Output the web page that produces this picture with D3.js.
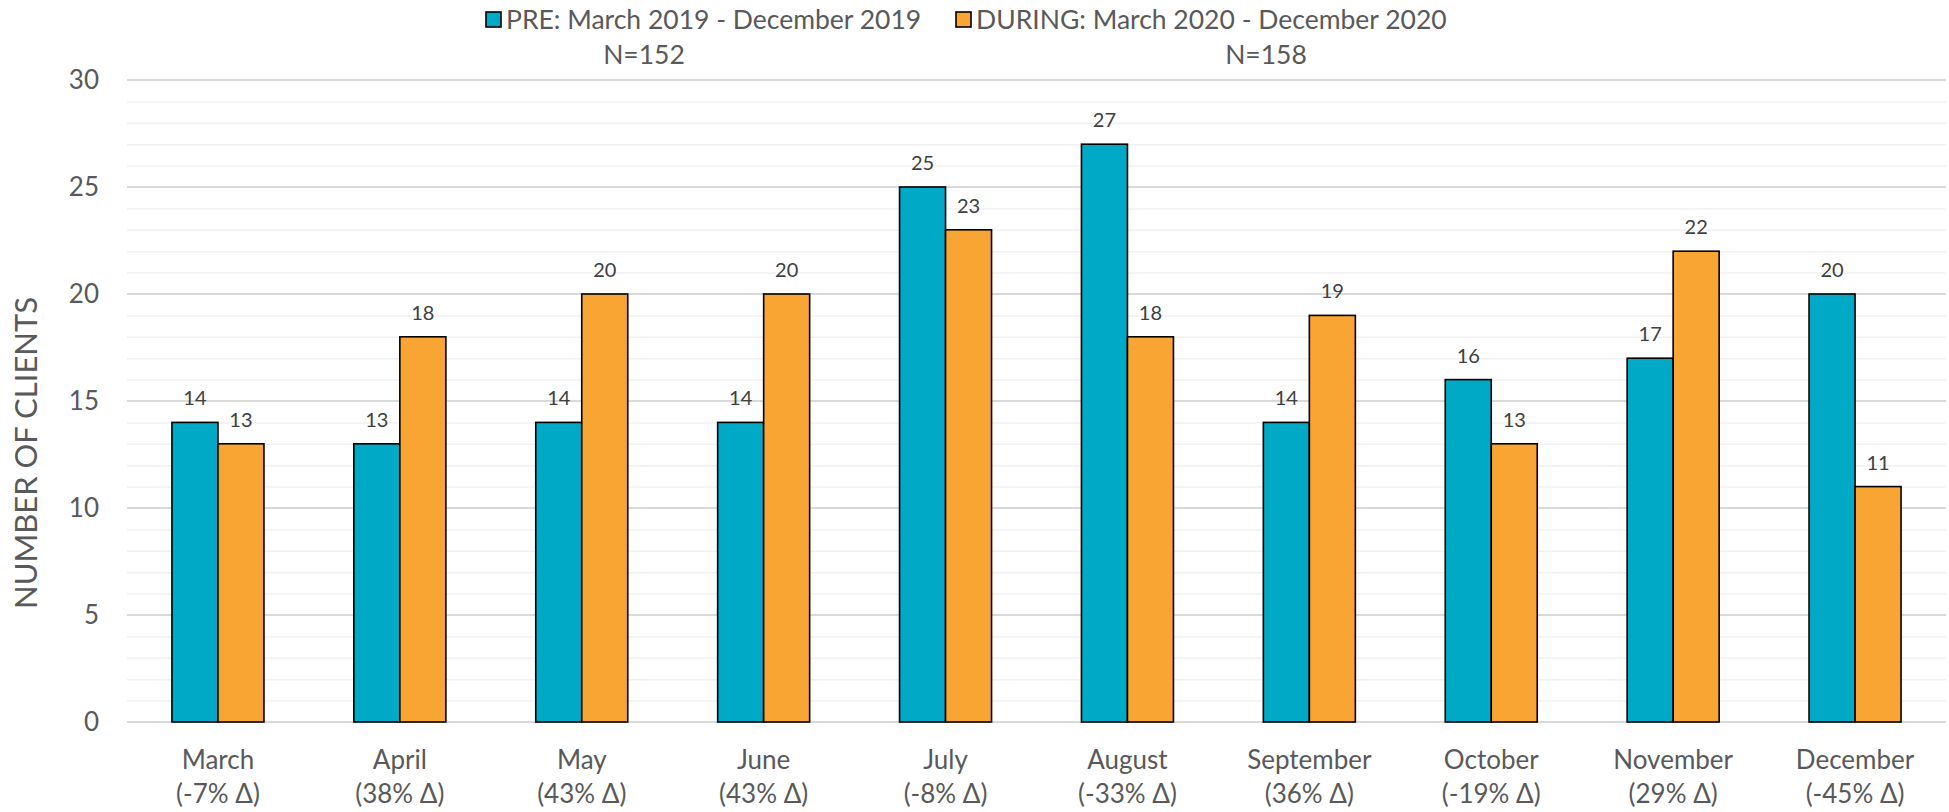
<!DOCTYPE html>
<html>
<head>
<meta charset="utf-8">
<script src="https://cdn.jsdelivr.net/npm/d3@7"></script>
<style>
  body { margin: 0; background: #fff; }
  text { font-family: Lato, "Open Sans", sans-serif; fill: #595959; }
</style>
</head>
<body>
<div id="chart"></div>
<script>
// Data
var months  = ["March", "April", "May", "June", "July", "August",
               "September", "October", "November", "December"];
var deltas  = ["-7%", "38%", "43%", "43%", "-8%", "-33%", "36%", "-19%", "29%", "-45%"];
var preVals    = [14, 13, 14, 14, 25, 27, 14, 16, 17, 20];
var duringVals = [13, 18, 20, 20, 23, 18, 19, 13, 22, 11];
var seriesNames = ["PRE: March 2019 - December 2019", "DURING: March 2020 - December 2020"];
var seriesN     = ["N=152", "N=158"];
var yTicks = [0, 5, 10, 15, 20, 25, 30];

var colors = ["#00A9C6", "#F9A533"];

// Step 1: chart size
var svgWidth  = 1949;
var svgHeight = 812;
var margin = { top: 80, right: 3, bottom: 90, left: 127 };
var width  = svgWidth  - margin.left - margin.right;
var height = svgHeight - margin.top  - margin.bottom;

var svg = d3.select("#chart").append("svg")
  .attr("width", svgWidth)
  .attr("height", svgHeight);

var g = svg.append("g")
  .attr("transform", `translate(${margin.left}, ${margin.top})`);

// Step 2: scales
var x0 = d3.scaleBand().domain(months).range([0, width]).padding(0);
var x1 = d3.scaleBand().domain([0, 1])
  .range([x0.bandwidth() / 2 - 46, x0.bandwidth() / 2 + 46]);
var y = d3.scaleLinear().domain([0, 30]).range([height, 0]);

// Step 3: gridlines (minor every 1, major every 5)
g.append("g").selectAll("line")
  .data(d3.range(1, 30).filter(v => v % 5 !== 0))
  .enter().append("line")
    .attr("x1", 0).attr("x2", width)
    .attr("y1", d => y(d) + 0.5).attr("y2", d => y(d) + 0.5)
    .attr("stroke", "#f0f0f0").attr("stroke-width", 1.5);

g.append("g").selectAll("line")
  .data(yTicks)
  .enter().append("line")
    .attr("x1", 0).attr("x2", width)
    .attr("y1", d => y(d)).attr("y2", d => y(d))
    .attr("stroke", "#d9d9d9").attr("stroke-width", 2);

// Step 4: y axis labels
var yAxis = g.append("g")
  .call(d3.axisLeft(y).tickValues(yTicks).tickSize(0).tickPadding(28));
yAxis.select(".domain").remove();
yAxis.selectAll("text")
  .style("font-size", "26px")
  .attr("fill", "#595959");

// Step 5: x axis labels (two lines)
var xAxis = g.append("g")
  .attr("transform", `translate(0, ${height})`)
  .call(d3.axisBottom(x0).tickSize(0).tickFormat(""));
xAxis.select(".domain").remove();
xAxis.selectAll(".tick").each(function(d, i) {
  var t = d3.select(this).append("text")
    .attr("text-anchor", "middle")
    .style("font-size", "26px");
  t.append("tspan").attr("x", 0).attr("y", 47).text(d);
  t.append("tspan").attr("x", 0).attr("y", 81).text(`(${deltas[i]} \u0394)`);
});

// Step 6: bars
var rows = months.map((m, i) => ({ month: m, vals: [preVals[i], duringVals[i]] }));

var groups = g.append("g").selectAll("g")
  .data(rows)
  .enter().append("g")
    .attr("transform", d => `translate(${x0(d.month)}, 0)`);

groups.selectAll("rect")
  .data(d => d.vals.map((v, k) => ({ k: k, v: v })))
  .enter().append("rect")
    .attr("x", d => x1(d.k))
    .attr("y", d => y(d.v))
    .attr("width", x1.bandwidth())
    .attr("height", d => height - y(d.v))
    .attr("fill", d => colors[d.k])
    .attr("stroke", "#000")
    .attr("stroke-width", 1.6);

groups.selectAll("text.val")
  .data(d => d.vals.map((v, k) => ({ k: k, v: v })))
  .enter().append("text")
    .attr("class", "val")
    .attr("x", d => x1(d.k) + x1.bandwidth() / 2)
    .attr("y", d => y(d.v) - 17)
    .attr("text-anchor", "middle")
    .style("font-size", "20px")
    .style("fill", "#404040")
    .text(d => d.v);

// Step 7: y axis title
svg.append("text")
  .attr("transform", "translate(37, 453) rotate(-90)")
  .attr("text-anchor", "middle")
  .style("font-size", "31px")
  .text("NUMBER OF CLIENTS");

// Step 8: legend
var legendX = [486, 956];
var nX = [644, 1266];
var legend = svg.append("g");
seriesNames.forEach(function(name, i) {
  legend.append("rect")
    .attr("x", legendX[i]).attr("y", 12)
    .attr("width", 15).attr("height", 15)
    .attr("fill", colors[i])
    .attr("stroke", "#000").attr("stroke-width", 1.6);
  legend.append("text")
    .attr("x", legendX[i] + 20).attr("y", 29)
    .style("font-size", "26.5px")
    .text(name);
  legend.append("text")
    .attr("x", nX[i]).attr("y", 64)
    .attr("text-anchor", "middle")
    .style("font-size", "26.5px")
    .text(seriesN[i]);
});
</script>
</body>
</html>
